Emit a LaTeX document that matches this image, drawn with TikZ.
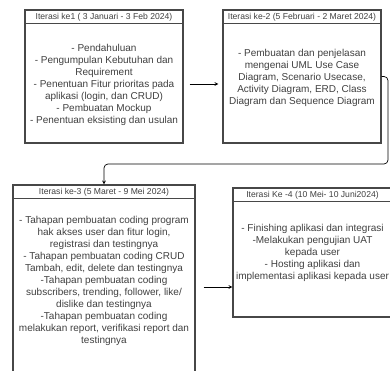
\documentclass[tikz,border=0pt]{standalone}
\usepackage{fontspec}
\setmainfont{Liberation Sans}
\usetikzlibrary{arrows,positioning}
\definecolor{boxgrey}{gray}{0.28}
\definecolor{textgrey}{gray}{0.25}

\begin{document}
\begin{tikzpicture}[x=1pt,y=-1pt]
\tikzstyle{box}=[draw=boxgrey,line width=1.3pt,rectangle,inner sep=0pt]
\tikzstyle{titlebar}=[draw=boxgrey,line width=1pt,rectangle,inner sep=0pt,minimum height=14pt,font=\fontsize{8.6}{9}\selectfont,text=textgrey]
\tikzstyle{content}=[align=center,font=\fontsize{10}{12}\selectfont,text=textgrey]
\tikzstyle{arrow}=[line width=0.7pt,->,>=stealth]
\useasboundingbox (0,0) rectangle (390,371);
\fill [white] (0,0) rectangle (390,371);

\node [box,minimum width=158pt,minimum height=133pt] at (104,76.5) (box1) {};
\node [titlebar,minimum width=158pt,below=0pt of box1.north] (title1) {Iterasi ke1 ( 3 Januari - 3 Feb 2024)};
\node [content] at (104,84.5) (text1) {- Pendahuluan\\- Pengumpulan Kebutuhan dan\\Requirement\\- Penentuan Fitur prioritas pada\\aplikasi (login, dan CRUD)\\- Pembuatan Mockup\\- Penentuan eksisting dan usulan};

\node [box,minimum width=158pt,minimum height=133pt] at (302,76.5) (box2) {};
\node [titlebar,minimum width=158pt,below=0pt of box2.north] (title2) {Iterasi ke-2 (5 Februari - 2 Maret 2024)};
\node [content] at (302,77.5) (text2) {- Pembuatan dan penjelasan\\mengenai UML Use Case\\Diagram, Scenario Usecase,\\Activity Diagram, ERD, Class\\Diagram dan Sequence Diagram};

\node [box,minimum width=182pt,minimum height=195pt] at (104,282.5) (box3) {};
\node [titlebar,minimum width=182pt,below=0pt of box3.north] (title3) {Iterasi ke-3 (5 Maret - 9 Mei 2024)};
\node [content] at (104,281) (text3) {- Tahapan pembuatan coding program\\hak akses user dan fitur login,\\registrasi dan testingnya\\- Tahapan pembuatan coding CRUD\\Tambah, edit, delete dan testingnya\\-Tahapan pembuatan coding\\subscribers, trending, follower, like/\\dislike dan testingnya\\-Tahapan pembuatan coding\\melakukan report, verifikasi report dan\\testingnya};

\node [box,minimum width=159pt,minimum height=129pt] at (312.5,252.5) (box4) {};
\node [titlebar,minimum width=159pt,below=0pt of box4.north] (title4) {Iterasi Ke -4 (10 Mei- 10 Juni2024)};
\node [content] at (312.5,252.5) (text4) {- Finishing aplikasi dan integrasi\\-Melakukan pengujian UAT\\kepada user\\- Hosting aplikasi dan\\implementasi aplikasi kepada user};

\coordinate (a1) at ([yshift=-7.5pt]box1.east);
\coordinate (a3) at ([yshift=-4.5pt]box3.east);
\coordinate (turn) at (388,164);

\draw [arrow,shorten <=6pt,shorten >=4pt] (a1) -- (a1 -| box2.west);
\draw [arrow,rounded corners=4pt] (box2.east) -| (turn) -| (title3.north);
\draw [arrow,shorten <=8pt] (a3) -- (a3 -| box4.west);
\end{tikzpicture}
\end{document}
